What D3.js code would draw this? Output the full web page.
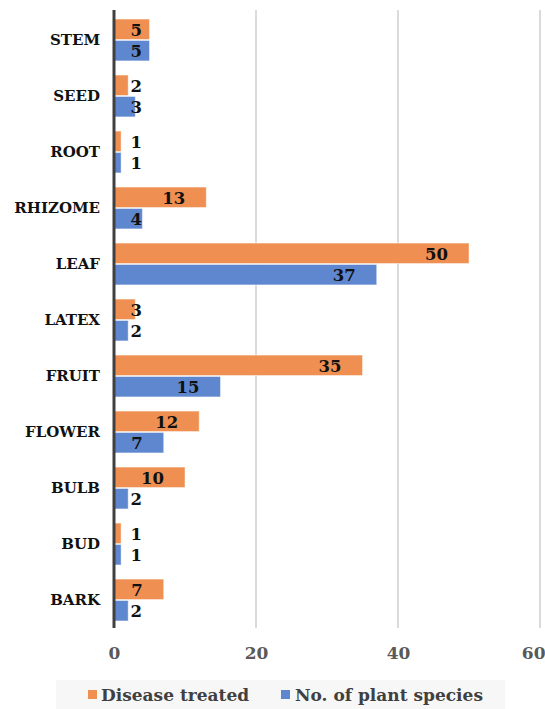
<!DOCTYPE html>
<html>
<head>
<meta charset="utf-8">
<script src="https://cdn.jsdelivr.net/npm/d3@7"></script>
<style>
  html, body { margin: 0; padding: 0; background: #ffffff; }
  svg { display: block; font-family: "DejaVu Serif", "Liberation Serif", serif; font-weight: bold; }
</style>
</head>
<body>
<svg id="chart" width="545" height="709"></svg>
<script>
// Plant parts used, top to bottom
const categories = ["STEM", "SEED", "ROOT", "RHIZOME", "LEAF", "LATEX", "FRUIT", "FLOWER", "BULB", "BUD", "BARK"];
const diseaseTreated = [5, 2, 1, 13, 50, 3, 35, 12, 10, 1, 7];
const plantSpecies   = [5, 3, 1, 4, 37, 2, 15, 7, 2, 1, 2];
const seriesNames = ["Disease treated", "No. of plant species"];
const xTicks = [0, 20, 40, 60];

const colors = ["#ef8f51", "#5f87cf"];

const svg = d3.select("#chart");
const margin = { left: 114, right: 5, top: 12, bottom: 81 };
const W = 545, H = 709;

const x = d3.scaleLinear().domain([0, 60]).range([margin.left, 540]);
const y = d3.scaleBand().domain(categories).range([margin.top, H - margin.bottom]).paddingInner(0.235).paddingOuter(0.117);
const sub = d3.scaleBand().domain([0, 1]).range([0, y.bandwidth()]).padding(0);

// vertical gridlines
svg.append("g").selectAll("line").data(xTicks.slice(1)).join("line")
  .attr("x1", d => x(d)).attr("x2", d => x(d))
  .attr("y1", 10).attr("y2", H - margin.bottom)
  .attr("stroke", "#c8c8c8").attr("stroke-width", 1.3);

// bars
const rows = categories.map((c, i) => ({ c, vals: [diseaseTreated[i], plantSpecies[i]] }));
const groups = svg.append("g").selectAll("g").data(rows).join("g")
  .attr("transform", d => `translate(0,${y(d.c)})`);

groups.selectAll("rect").data(d => d.vals.map((v, s) => ({ v, s }))).join("rect")
  .attr("x", x(0))
  .attr("y", d => sub(d.s) + 0.5)
  .attr("width", d => x(d.v) - x(0))
  .attr("height", sub.bandwidth() - 1)
  .attr("fill", d => colors[d.s])
  .attr("stroke", "#ffffff").attr("stroke-opacity", 0.45).attr("stroke-width", 1);

// value labels: near the bar end, pushed right of the axis for short bars
groups.selectAll("text").data(d => d.vals.map((v, s) => ({ v, s }))).join("text")
  .attr("x", function (d) {
    const endX = x(d.v) - 21;
    const w = String(d.v).length * 12;
    return Math.max(endX, 130 + w);
  })
  .attr("y", d => sub(d.s) + sub.bandwidth() / 2 + 6.5)
  .attr("text-anchor", "end")
  .attr("font-size", 16.5)
  .attr("fill", "#111")
  .text(d => d.v);

// category labels
svg.append("g").selectAll("text").data(categories).join("text")
  .attr("x", 100)
  .attr("y", d => y(d) + y.bandwidth() / 2 + 5)
  .attr("text-anchor", "end")
  .attr("font-size", 15)
  .attr("fill", "#111")
  .text(d => d);

// zero axis line
svg.append("line")
  .attr("x1", x(0)).attr("x2", x(0))
  .attr("y1", 10).attr("y2", H - margin.bottom)
  .attr("stroke", "#404040").attr("stroke-width", 3);

// x axis tick labels
const xAxis = d3.axisBottom(x).tickValues(xTicks).tickSize(0).tickPadding(0);
const ax = svg.append("g").attr("transform", `translate(0,${659})`).call(xAxis);
ax.select(".domain").remove();
ax.selectAll("text").attr("font-size", 17).attr("font-family", "DejaVu Serif, serif")
  .attr("font-weight", "bold").attr("fill", "#595959").attr("dy", 0)
  .attr("text-anchor", d => d === 60 ? "end" : "middle")
  .attr("x", d => d === 60 ? 545 - x(60) : 0);

// legend
const lg = svg.append("g");
lg.append("rect").attr("x", 56).attr("y", 680).attr("width", 449).attr("height", 29).attr("fill", "#f7f7f7");
const items = [{ x: 88, tx: 101 }, { x: 281, tx: 295 }];
items.forEach((it, i) => {
  lg.append("rect").attr("x", it.x).attr("y", 690).attr("width", 9).attr("height", 9).attr("fill", colors[i]);
  lg.append("text").attr("x", it.tx).attr("y", 701).attr("font-size", 17).attr("fill", "#404040").text(seriesNames[i]);
});
</script>
</body>
</html>
